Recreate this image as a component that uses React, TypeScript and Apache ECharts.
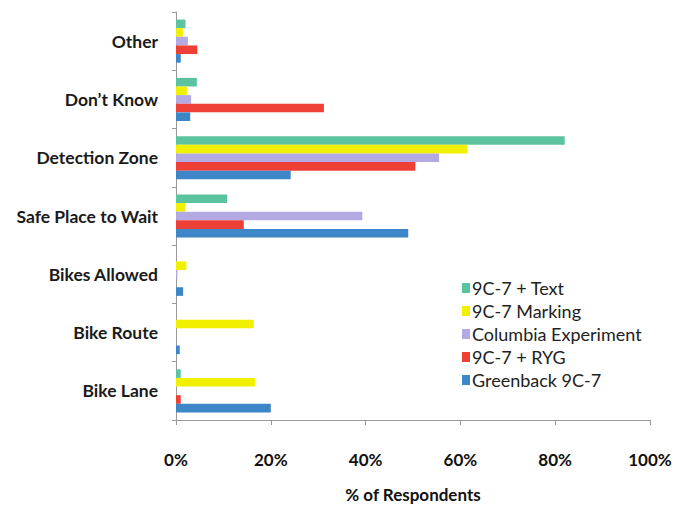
import React, { useEffect, useRef } from "react";
import * as echarts from "echarts";

const categories = ["Bike Lane", "Bike Route", "Bikes Allowed", "Safe Place to Wait", "Detection Zone", "Don\u2019t Know", "Other"];
const text9c7 = [1, 0, 0, 10.8, 82, 4.4, 2];
const marking9c7 = [16.7, 16.4, 2.2, 2, 61.5, 2.3, 1.5];
const columbia = [0, 0, 0.3, 39.3, 55.5, 3.2, 2.5];
const ryg9c7 = [1, 0, 0, 14.3, 50.5, 31.2, 4.5];
const greenback = [20, 0.8, 1.5, 49, 24.2, 3, 1];
const xTicks = ["0%", "20%", "40%", "60%", "80%", "100%"];

const FONT = "Lato, 'Open Sans', sans-serif";

export default function App() {
  const ref = useRef<HTMLDivElement>(null);
  useEffect(() => {
    const chart = echarts.init(ref.current!, null, { renderer: "svg" });
    const mk = (name: string, data: number[], color: string) => ({
      name,
      type: "bar",
      data,
      itemStyle: { color },
      barGap: "0%",
      barCategoryGap: "26%",
    });
    chart.setOption({
      animation: false,
      backgroundColor: "#ffffff",
      grid: { left: 176, right: 31, top: 12, bottom: 84 },
      legend: {
        orient: "vertical",
        left: 457,
        top: 274,
        itemWidth: 8,
        itemHeight: 10,
        itemGap: 5,
        icon: "rect",
        textStyle: { fontFamily: FONT, fontSize: 18, color: "#222", padding: [0, 0, 0, -3] },
        data: ["9C-7 + Text", "9C-7 Marking", "Columbia Experiment", "9C-7 + RYG", "Greenback 9C-7"],
      },
      xAxis: {
        type: "value",
        min: 0,
        max: 100,
        interval: 20,
        name: "% of Respondents",
        nameLocation: "middle",
        nameGap: 66,
        nameTextStyle: { fontFamily: FONT, fontSize: 17, fontWeight: "bold", color: "#111" },
        axisLine: { show: true, lineStyle: { color: "#999" } },
        axisTick: { show: true, length: 5, lineStyle: { color: "#999" } },
        splitLine: { show: false },
        axisLabel: {
          fontFamily: FONT,
          fontSize: 17,
          fontWeight: "bold",
          color: "#111",
          margin: 31,
          formatter: (v: number) => xTicks[Math.round(v / 20)],
        },
      },
      yAxis: {
        type: "category",
        data: categories,
        axisLine: { show: true, lineStyle: { color: "#999" } },
        axisTick: { show: true, length: 4, lineStyle: { color: "#999" } },
        axisLabel: {
          fontFamily: FONT,
          fontSize: 17.5,
          fontWeight: "bold",
          color: "#1a1a1a",
          margin: 18,
        },
      },
      series: [
        mk("9C-7 + Text", text9c7, "#5cc39f"),
        mk("9C-7 Marking", marking9c7, "#f1f000"),
        mk("Columbia Experiment", columbia, "#b3aae3"),
        mk("9C-7 + RYG", ryg9c7, "#ee4036"),
        mk("Greenback 9C-7", greenback, "#3d87c9"),
      ],
    });
    return () => chart.dispose();
  }, []);
  return <div ref={ref} style={{ width: 681, height: 508, position: "absolute", left: 0, top: 0 }} />;
}
